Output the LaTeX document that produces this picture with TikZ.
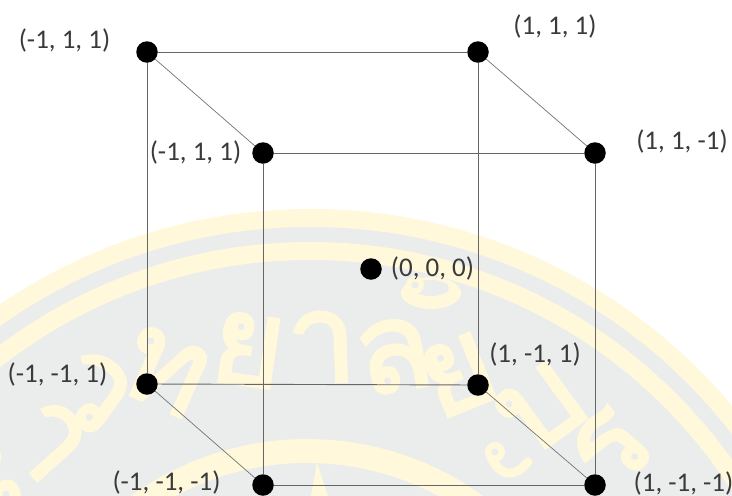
\documentclass[tikz,border=0pt]{standalone}
\usepackage{fontspec}
\setmainfont{Carlito}
\newfontfamily\thaifont[Script=Thai,FakeBold=2.5]{Loma}
\definecolor{wmy}{HTML}{FFF8DA}
\definecolor{wmg}{HTML}{EBEDED}
\definecolor{ink}{HTML}{3A3A3A}
\tikzset{
  vertex/.style={circle,fill=black,inner sep=0pt,minimum size=21.5pt},
  edge/.style={draw=black!60,line width=0.9pt},
  thinedge/.style={draw=black!55,line width=0.7pt},
  coord/.style={text=ink,font=\fontsize{27}{29}\selectfont,inner sep=0pt},
  wmletter/.style={text=wmy,font=\thaifont\fontsize{125}{125}\selectfont,inner sep=0pt}
}
\begin{document}
\begin{tikzpicture}[x=1pt,y=-1pt]
\useasboundingbox (0,0) rectangle (732,496);
\begin{scope}
\clip (0,0) rectangle (732,496);
\fill[wmy] (310,760) circle (551);
\fill[wmg] (310,760) circle (533);
\fill[wmy] (310,760) circle (518);
\fill[wmg] (310,760) circle (500);
\fill[wmy] (307,739) circle (300);
\fill[wmg] (307,739) circle (276);
\fill[wmy] (317,462) -- (311,496) -- (328,496) -- cycle;
\node[wmletter,rotate=-62] (wh) at (-22,488) {ห};
\node[wmletter,rotate=-48] (wa) at (48,440) {า};
\node[wmletter,rotate=-36] (wv) at (93,392) {ว};
\node[wmletter,rotate=-24] (wt) at (165,372) {ท};
\node[wmletter,rotate=-8] (wy) at (248,350) {ย};
\node[wmletter,rotate=2] (waa) at (322,347) {า};
\node[wmletter,rotate=10] (wl) at (394,356) {ล};
\node[wmletter,rotate=22] (wyy) at (458,375) {ย};
\node[wmletter,rotate=36] (wb) at (541,408) {บ};
\node[wmletter,rotate=50] (wr) at (612,448) {ร};
\fill[wmy] (431,293) ellipse (30 and 16);
\fill[wmg] (431,288) ellipse (18 and 8);
\fill[wmy] (415,285) circle (9);
\fill[wmg] (415,285) circle (3.5);
\draw[wmy,line width=9pt,line cap=round] (490,455) .. controls (500,478) and (515,478) .. (528,462);
\fill[wmy] (495,452) circle (10);
\fill[wmg] (495,452) circle (3.5);
\end{scope}
\node[vertex] (a) at (147,52) {};
\node[vertex] (b) at (478,52) {};
\node[vertex] (c) at (263,153) {};
\node[vertex] (d) at (595,153) {};
\node[vertex] (e) at (147,384) {};
\node[vertex] (f) at (478,385) {};
\node[vertex] (g) at (263,485) {};
\node[vertex] (h) at (595,485) {};
\node[vertex] (o) at (371,269) {};
\draw[edge] (a) -- (b);
\draw[thinedge] (a) -- (c);
\draw[thinedge] (b) -- (d);
\draw[edge] (c) -- (d);
\draw[edge] (a) -- (e);
\draw[edge] (b) -- (f);
\draw[edge] (c) -- (g);
\draw[edge] (d) -- (h);
\draw[edge] (e) -- (f);
\draw[thinedge] (e) -- (g);
\draw[thinedge] (f) -- (h);
\draw[edge] (g) -- (h);
\node[coord] (la) at (64.5,40) {(-1, 1, 1)};
\node[coord] (lc) at (195.5,152) {(-1, 1, 1)};
\node[coord] (lb) at (555,26) {(1, 1, 1)};
\node[coord] (ld) at (682,141) {(1, 1, -1)};
\node[coord] (lo) at (432.5,268) {(0, 0, 0)};
\node[coord] (lf) at (535,354) {(1, -1, 1)};
\node[coord] (le) at (57.5,374) {(-1, -1, 1)};
\node[coord] (lg) at (166.5,482) {(-1, -1, -1)};
\node[coord] (lh) at (683.5,483) {(1, -1, -1)};
\end{tikzpicture}
\end{document}
